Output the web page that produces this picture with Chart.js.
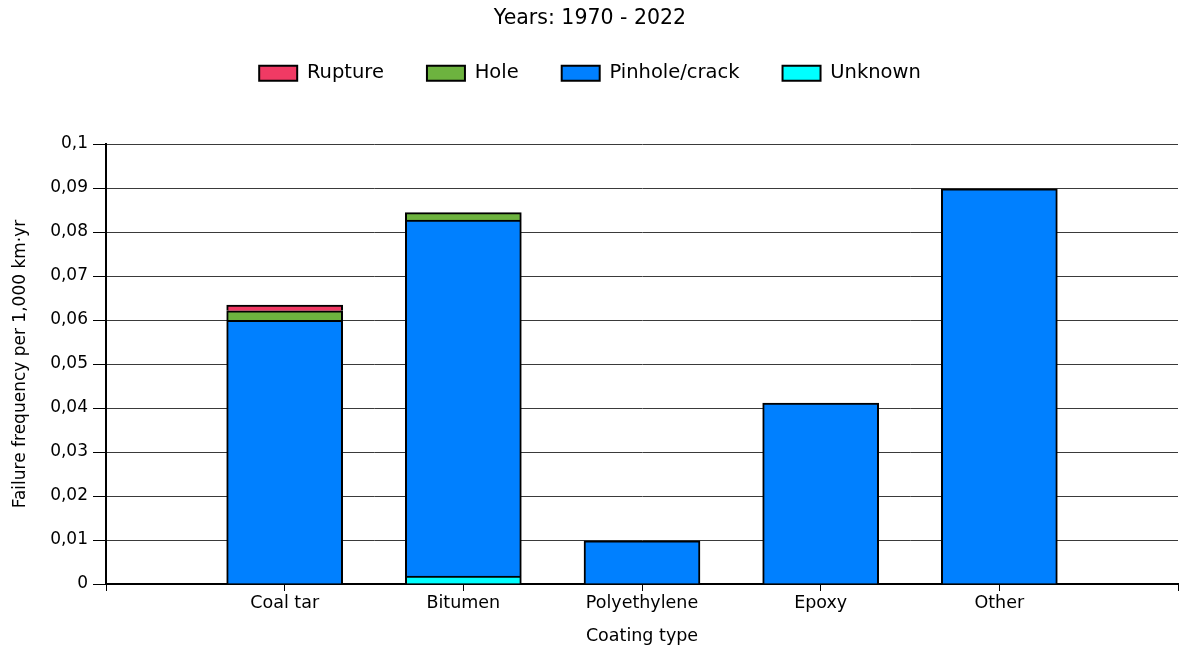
<!DOCTYPE html>
<html>
<head>
<meta charset="utf-8">
<script src="https://cdn.jsdelivr.net/npm/chart.js@4/dist/chart.umd.min.js"></script>
<style>
  html, body { margin: 0; padding: 0; background: #ffffff; }
  #wrap { width: 1180px; height: 649px; }
</style>
</head>
<body>
<div id="wrap"><canvas id="c" width="1180" height="649"></canvas></div>
<script>
// Coating types (empty slots keep a half gap at both ends of the axis)
const categories = ['', 'Coal tar', 'Bitumen', 'Polyethylene', 'Epoxy', 'Other', ''];

// Failure frequency per 1,000 km·yr, by failure mode
const unknown = [null, 0,      0.0018, 0,      0,      0,      null];
const pinhole = [null, 0.0599, 0.0809, 0.0098, 0.0411, 0.0898, null];
const hole    = [null, 0.0022, 0.0017, 0,      0,      0,      null];
const rupture = [null, 0.0013, 0,      0,      0,      0,      null];

const yTicks = [0, 0.01, 0.02, 0.03, 0.04, 0.05, 0.06, 0.07, 0.08, 0.09, 0.1];

Chart.defaults.font.family = "'DejaVu Sans', Verdana, sans-serif";
Chart.defaults.color = '#000000';

function series(label, data, color) {
  return {
    label: label,
    data: data,
    backgroundColor: color,
    borderColor: '#000000',
    borderWidth: 2,
    barThickness: 116
  };
}

new Chart(document.getElementById('c'), {
  type: 'bar',
  data: {
    labels: categories,
    datasets: [
      series('Unknown', unknown, '#00FFFF'),
      series('Pinhole/crack', pinhole, '#0080FF'),
      series('Hole', hole, '#6DB33F'),
      series('Rupture', rupture, '#F03A64')
    ]
  },
  options: {
    responsive: false,
    animation: false,
    devicePixelRatio: 1,
    layout: { padding: 0 },
    plugins: {
      title: {
        display: true,
        text: 'Years: 1970 - 2022',
        color: '#000000',
        font: { size: 20.5, weight: 'normal', lineHeight: 1 },
        padding: { top: 8, bottom: -8 }
      },
      legend: {
        display: true,
        reverse: true,
        labels: {
          boxWidth: 38,
          boxHeight: 15,
          padding: 43,
          color: '#000000',
          font: { size: 19.5 }
        }
      },
      // gap between the legend row and the plot
      subtitle: {
        display: true,
        text: '',
        weight: 500,
        font: { size: 51, lineHeight: 1 },
        padding: 0
      },
      tooltip: { enabled: false }
    },
    scales: {
      x: {
        stacked: true,
        offset: false,
        grid: {
          offset: false,
          drawOnChartArea: false,
          drawTicks: true,
          tickLength: 7,
          tickColor: '#000000',
          tickWidth: 1
        },
        border: { display: true, color: '#000000', width: 2 },
        ticks: {
          autoSkip: false,
          maxRotation: 0,
          minRotation: 0,
          padding: 2,
          font: { size: 17.5 }
        },
        title: {
          display: true,
          text: 'Coating type',
          font: { size: 17.5 },
          padding: { top: 0, bottom: 2 }
        },
        afterFit: function (scale) { scale.height = 65; }
      },
      y: {
        stacked: true,
        min: 0,
        max: 0.1,
        afterBuildTicks: function (scale) {
          scale.ticks = yTicks.map(function (v) { return { value: v }; });
        },
        grid: {
          color: '#3a3a3a',
          lineWidth: 1,
          tickLength: 13,
          tickColor: '#000000'
        },
        border: { display: true, color: '#000000', width: 2 },
        ticks: {
          padding: 5,
          font: { size: 17 },
          callback: function (v) {
            return String(Number(Number(v).toFixed(2))).replace('.', ',');
          }
        },
        title: {
          display: true,
          text: 'Failure frequency per 1,000 km·yr',
          font: { size: 17 },
          padding: { top: 10, bottom: 0 }
        },
        afterFit: function (scale) { scale.width = 106; }
      }
    }
  }
});
</script>
</body>
</html>
